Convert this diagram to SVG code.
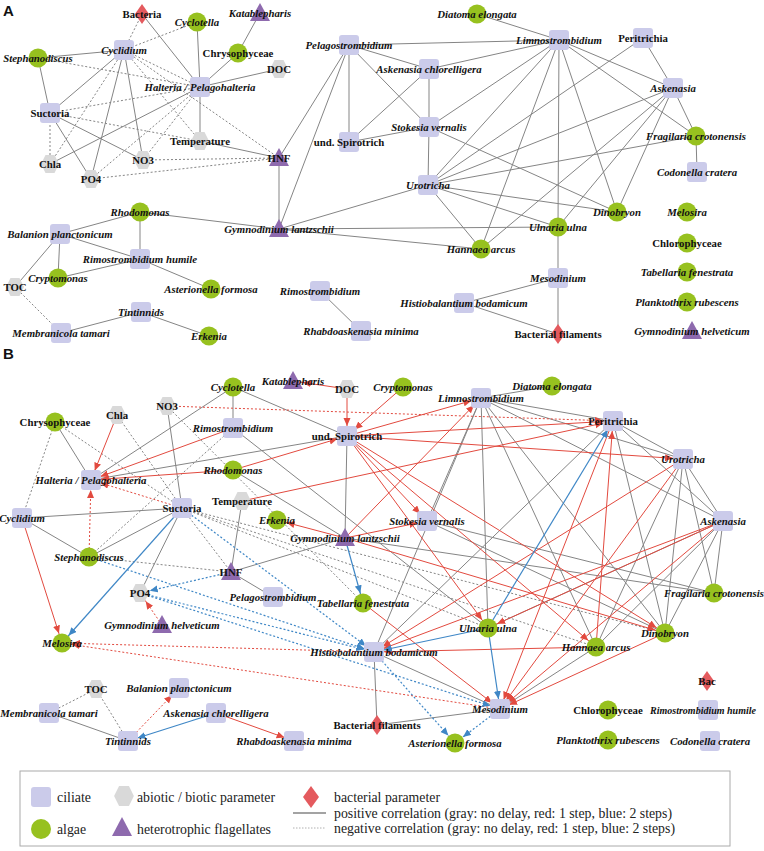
<svg xmlns="http://www.w3.org/2000/svg" width="764" height="851" viewBox="0 0 764 851">
<style>
.g{stroke:#858585;stroke-width:1;fill:none}
.gd{stroke:#858585;stroke-width:1;stroke-dasharray:2 2;fill:none}
.r{stroke:#e24a3f;stroke-width:1;marker-end:url(#mr)}
.rd{stroke:#e24a3f;stroke-width:1;stroke-dasharray:2 2;marker-end:url(#mr)}
.b{stroke:#3f87c6;stroke-width:1.2;marker-end:url(#mb)}
.bd{stroke:#3f87c6;stroke-width:1.2;stroke-dasharray:2 2;marker-end:url(#mb)}
text{font-family:"Liberation Serif","Times New Roman",serif;font-weight:bold;font-size:10.8px;text-anchor:middle;fill:#111}
.i{font-style:italic}
.sm{font-size:10px}
.lg{font-weight:normal;font-size:14px;text-anchor:start;fill:#222}
.pl{font-family:"Liberation Sans",Arial,sans-serif;font-size:15px;text-anchor:start}
</style>
<defs>
<rect id="sq" x="-10" y="-10" width="20" height="20" rx="3" fill="#cbcbea"/>
<circle id="ci" r="9.5" fill="#97c11f"/>
<polygon id="hx" points="-9,0 -4.5,-9 4.5,-9 9,0 4.5,9 -4.5,9" fill="#d9d9d9"/>
<polygon id="tr" points="0,-10 10,8 -10,8" fill="#8e6aae"/>
<polygon id="dm" points="0,-10 7,0 0,10 -7,0" fill="#e45a5e"/>
<marker id="mr" markerUnits="userSpaceOnUse" markerWidth="30" markerHeight="10" refX="18" refY="3.5" orient="auto"><path d="M0,0 L8,3.5 L0,7 z" fill="#e24a3f"/></marker>
<marker id="mb" markerUnits="userSpaceOnUse" markerWidth="30" markerHeight="10" refX="18" refY="3.5" orient="auto"><path d="M0,0 L8,3.5 L0,7 z" fill="#3f87c6"/></marker>
</defs>
<rect width="764" height="851" fill="#fff"/>
<text class="pl" x="3" y="16">A</text>
<text class="pl" x="3" y="359">B</text>

<g id="connectors-A">
<line class="g" x1="142" y1="14" x2="200" y2="87"/>
<line class="g" x1="197" y1="22" x2="200" y2="87"/>
<line class="g" x1="260" y1="13" x2="238" y2="53"/>
<line class="g" x1="238" y1="53" x2="200" y2="87"/>
<line class="g" x1="200" y1="87" x2="279" y2="69"/>
<line class="g" x1="38" y1="58" x2="124" y2="50"/>
<line class="g" x1="38" y1="58" x2="50" y2="113"/>
<line class="g" x1="124" y1="50" x2="50" y2="113"/>
<line class="g" x1="124" y1="50" x2="143" y2="160"/>
<line class="g" x1="124" y1="50" x2="91" y2="179"/>
<line class="g" x1="200" y1="87" x2="50" y2="164"/>
<line class="g" x1="200" y1="87" x2="200" y2="141"/>
<line class="g" x1="50" y1="113" x2="91" y2="179"/>
<line class="g" x1="50" y1="113" x2="143" y2="160"/>
<line class="g" x1="200" y1="141" x2="279" y2="158"/>
<line class="g" x1="279" y1="158" x2="349" y2="45"/>
<line class="g" x1="279" y1="158" x2="279" y2="229"/>
<line class="g" x1="279" y1="229" x2="349" y2="45"/>
<line class="g" x1="349" y1="45" x2="559" y2="40"/>
<line class="g" x1="349" y1="45" x2="429" y2="69"/>
<line class="g" x1="349" y1="45" x2="349" y2="142"/>
<line class="g" x1="349" y1="45" x2="429" y2="127"/>
<line class="g" x1="429" y1="69" x2="349" y2="142"/>
<line class="g" x1="429" y1="69" x2="429" y2="127"/>
<line class="g" x1="429" y1="69" x2="559" y2="40"/>
<line class="g" x1="349" y1="142" x2="429" y2="127"/>
<line class="g" x1="429" y1="127" x2="428" y2="185"/>
<line class="g" x1="429" y1="127" x2="559" y2="40"/>
<line class="g" x1="429" y1="127" x2="617" y2="212"/>
<line class="g" x1="477" y1="14" x2="559" y2="40"/>
<line class="g" x1="559" y1="40" x2="673" y2="88"/>
<line class="g" x1="559" y1="40" x2="696" y2="136"/>
<line class="g" x1="559" y1="40" x2="428" y2="185"/>
<line class="g" x1="559" y1="40" x2="558" y2="227"/>
<line class="g" x1="559" y1="40" x2="481" y2="249"/>
<line class="g" x1="559" y1="40" x2="617" y2="212"/>
<line class="g" x1="643" y1="38" x2="673" y2="88"/>
<line class="g" x1="643" y1="38" x2="428" y2="185"/>
<line class="g" x1="673" y1="88" x2="696" y2="136"/>
<line class="g" x1="673" y1="88" x2="428" y2="185"/>
<line class="g" x1="673" y1="88" x2="481" y2="249"/>
<line class="g" x1="673" y1="88" x2="558" y2="227"/>
<line class="g" x1="673" y1="88" x2="617" y2="212"/>
<line class="g" x1="696" y1="136" x2="697" y2="172"/>
<line class="g" x1="696" y1="136" x2="428" y2="185"/>
<line class="g" x1="428" y1="185" x2="481" y2="249"/>
<line class="g" x1="428" y1="185" x2="558" y2="227"/>
<line class="g" x1="428" y1="185" x2="617" y2="212"/>
<line class="g" x1="428" y1="185" x2="279" y2="229"/>
<line class="g" x1="558" y1="227" x2="558" y2="278"/>
<line class="g" x1="558" y1="227" x2="279" y2="229"/>
<line class="g" x1="481" y1="249" x2="279" y2="229"/>
<line class="g" x1="558" y1="278" x2="464" y2="303"/>
<line class="g" x1="558" y1="278" x2="558" y2="334"/>
<line class="g" x1="464" y1="303" x2="558" y2="334"/>
<line class="g" x1="140" y1="212" x2="60" y2="234"/>
<line class="g" x1="140" y1="212" x2="140" y2="259"/>
<line class="g" x1="140" y1="212" x2="279" y2="229"/>
<line class="g" x1="60" y1="234" x2="58" y2="278"/>
<line class="g" x1="60" y1="234" x2="15" y2="287"/>
<line class="g" x1="60" y1="234" x2="140" y2="259"/>
<line class="g" x1="58" y1="278" x2="140" y2="259"/>
<line class="g" x1="140" y1="259" x2="211" y2="289"/>
<line class="g" x1="61" y1="333" x2="141" y2="312"/>
<line class="g" x1="141" y1="312" x2="209" y2="336"/>
<line class="g" x1="320" y1="291" x2="361" y2="331"/>
<line class="gd" x1="142" y1="14" x2="124" y2="50"/>
<line class="gd" x1="197" y1="22" x2="124" y2="50"/>
<line class="gd" x1="38" y1="58" x2="200" y2="87"/>
<line class="gd" x1="124" y1="50" x2="200" y2="87"/>
<line class="gd" x1="124" y1="50" x2="200" y2="141"/>
<line class="gd" x1="124" y1="50" x2="50" y2="164"/>
<line class="gd" x1="50" y1="113" x2="200" y2="87"/>
<line class="gd" x1="200" y1="87" x2="143" y2="160"/>
<line class="gd" x1="200" y1="87" x2="91" y2="179"/>
<line class="gd" x1="50" y1="113" x2="50" y2="164"/>
<line class="gd" x1="50" y1="113" x2="200" y2="141"/>
<line class="gd" x1="143" y1="160" x2="279" y2="158"/>
<line class="gd" x1="91" y1="179" x2="279" y2="158"/>
<line class="gd" x1="124" y1="50" x2="279" y2="158"/>
<line class="gd" x1="15" y1="287" x2="61" y2="333"/>
</g>

<g id="connectors-B">
<line class="g" x1="55" y1="422" x2="91" y2="480"/>
<line class="g" x1="167" y1="406" x2="182" y2="508"/>
<line class="g" x1="233" y1="387" x2="233" y2="428"/>
<line class="g" x1="233" y1="387" x2="91" y2="480"/>
<line class="g" x1="233" y1="387" x2="347" y2="436"/>
<line class="g" x1="91" y1="480" x2="347" y2="436"/>
<line class="g" x1="233" y1="428" x2="488" y2="628"/>
<line class="g" x1="233" y1="470" x2="345" y2="538"/>
<line class="g" x1="242" y1="501" x2="231" y2="572"/>
<line class="g" x1="182" y1="508" x2="22" y2="518"/>
<line class="g" x1="22" y1="518" x2="89" y2="557"/>
<line class="g" x1="89" y1="557" x2="182" y2="508"/>
<line class="g" x1="182" y1="508" x2="140" y2="593"/>
<line class="g" x1="231" y1="572" x2="345" y2="538"/>
<line class="g" x1="231" y1="572" x2="273" y2="597"/>
<line class="g" x1="345" y1="538" x2="347" y2="436"/>
<line class="g" x1="345" y1="538" x2="714" y2="593"/>
<line class="g" x1="481" y1="398" x2="552" y2="386"/>
<line class="g" x1="481" y1="398" x2="613" y2="421"/>
<line class="g" x1="481" y1="398" x2="683" y2="459"/>
<line class="g" x1="481" y1="398" x2="723" y2="521"/>
<line class="g" x1="481" y1="398" x2="427" y2="521"/>
<line class="g" x1="481" y1="398" x2="488" y2="628"/>
<line class="g" x1="481" y1="398" x2="596" y2="647"/>
<line class="g" x1="481" y1="398" x2="665" y2="633"/>
<line class="g" x1="481" y1="398" x2="374" y2="652"/>
<line class="g" x1="613" y1="421" x2="683" y2="459"/>
<line class="g" x1="613" y1="421" x2="723" y2="521"/>
<line class="g" x1="613" y1="421" x2="665" y2="633"/>
<line class="g" x1="613" y1="421" x2="374" y2="652"/>
<line class="g" x1="683" y1="459" x2="723" y2="521"/>
<line class="g" x1="683" y1="459" x2="714" y2="593"/>
<line class="g" x1="683" y1="459" x2="665" y2="633"/>
<line class="g" x1="683" y1="459" x2="596" y2="647"/>
<line class="g" x1="723" y1="521" x2="714" y2="593"/>
<line class="g" x1="723" y1="521" x2="665" y2="633"/>
<line class="g" x1="723" y1="521" x2="596" y2="647"/>
<line class="g" x1="723" y1="521" x2="488" y2="628"/>
<line class="g" x1="427" y1="521" x2="714" y2="593"/>
<line class="g" x1="427" y1="521" x2="665" y2="633"/>
<line class="g" x1="374" y1="652" x2="500" y2="709"/>
<line class="g" x1="374" y1="652" x2="377" y2="725"/>
<line class="g" x1="500" y1="709" x2="377" y2="725"/>
<line class="g" x1="500" y1="709" x2="596" y2="647"/>
<line class="g" x1="49" y1="713" x2="128" y2="741"/>
<line class="gd" x1="55" y1="422" x2="22" y2="518"/>
<line class="gd" x1="55" y1="422" x2="182" y2="508"/>
<line class="gd" x1="117" y1="415" x2="182" y2="508"/>
<line class="gd" x1="167" y1="406" x2="363" y2="603"/>
<line class="gd" x1="233" y1="428" x2="89" y2="557"/>
<line class="gd" x1="182" y1="508" x2="231" y2="572"/>
<line class="gd" x1="182" y1="508" x2="488" y2="628"/>
<line class="gd" x1="182" y1="508" x2="596" y2="647"/>
<line class="gd" x1="182" y1="508" x2="665" y2="633"/>
<line class="gd" x1="89" y1="557" x2="231" y2="572"/>
<line class="gd" x1="96" y1="689" x2="49" y2="713"/>
<line class="gd" x1="96" y1="689" x2="128" y2="741"/>
<line class="r" x1="117" y1="415" x2="91" y2="480"/>
<line class="r" x1="233" y1="428" x2="91" y2="480"/>
<line class="r" x1="233" y1="470" x2="91" y2="480"/>
<line class="r" x1="22" y1="518" x2="62" y2="643"/>
<line class="r" x1="233" y1="470" x2="347" y2="436"/>
<line class="r" x1="242" y1="501" x2="613" y2="421"/>
<line class="r" x1="347" y1="389" x2="293" y2="381"/>
<line class="r" x1="347" y1="389" x2="347" y2="436"/>
<line class="r" x1="403" y1="387" x2="347" y2="436"/>
<line class="r" x1="347" y1="436" x2="481" y2="398"/>
<line class="r" x1="347" y1="436" x2="613" y2="421"/>
<line class="r" x1="347" y1="436" x2="683" y2="459"/>
<line class="r" x1="347" y1="436" x2="427" y2="521"/>
<line class="r" x1="347" y1="436" x2="488" y2="628"/>
<line class="r" x1="347" y1="436" x2="596" y2="647"/>
<line class="r" x1="347" y1="436" x2="665" y2="633"/>
<line class="r" x1="345" y1="538" x2="277" y2="520"/>
<line class="r" x1="345" y1="538" x2="427" y2="521"/>
<line class="r" x1="345" y1="538" x2="481" y2="398"/>
<line class="r" x1="345" y1="538" x2="665" y2="633"/>
<line class="r" x1="363" y1="603" x2="500" y2="709"/>
<line class="r" x1="596" y1="647" x2="613" y2="421"/>
<line class="r" x1="683" y1="459" x2="374" y2="652"/>
<line class="r" x1="683" y1="459" x2="500" y2="709"/>
<line class="r" x1="723" y1="521" x2="374" y2="652"/>
<line class="r" x1="723" y1="521" x2="500" y2="709"/>
<line class="r" x1="723" y1="521" x2="488" y2="628"/>
<line class="r" x1="613" y1="421" x2="500" y2="709"/>
<line class="r" x1="665" y1="633" x2="500" y2="709"/>
<line class="r" x1="596" y1="647" x2="374" y2="652"/>
<line class="r" x1="216" y1="713" x2="294" y2="741"/>
<line class="rd" x1="167" y1="406" x2="613" y2="421"/>
<line class="rd" x1="182" y1="508" x2="91" y2="480"/>
<line class="rd" x1="89" y1="557" x2="91" y2="480"/>
<line class="rd" x1="162" y1="625" x2="140" y2="593"/>
<line class="rd" x1="374" y1="652" x2="62" y2="643"/>
<line class="rd" x1="500" y1="709" x2="62" y2="643"/>
<line class="rd" x1="128" y1="741" x2="179" y2="688"/>
<line class="b" x1="182" y1="508" x2="62" y2="643"/>
<line class="b" x1="345" y1="538" x2="363" y2="603"/>
<line class="b" x1="488" y1="628" x2="613" y2="421"/>
<line class="b" x1="488" y1="628" x2="500" y2="709"/>
<line class="b" x1="488" y1="628" x2="374" y2="652"/>
<line class="b" x1="216" y1="713" x2="128" y2="741"/>
<line class="bd" x1="182" y1="508" x2="374" y2="652"/>
<line class="bd" x1="89" y1="557" x2="374" y2="652"/>
<line class="bd" x1="231" y1="572" x2="140" y2="593"/>
<line class="bd" x1="140" y1="593" x2="374" y2="652"/>
<line class="bd" x1="140" y1="593" x2="500" y2="709"/>
<line class="bd" x1="500" y1="709" x2="455" y2="743"/>
<line class="bd" x1="374" y1="652" x2="455" y2="743"/>
</g>

<g id="A-bacteria" transform="translate(142,14)"><use href="#dm"/><text y="4">Bacteria</text></g>
<g id="A-cyclotella" transform="translate(197,22)"><use href="#ci"/><text class="i" y="4">Cyclotella</text></g>
<g id="A-katablepharis" transform="translate(260,13)"><use href="#tr"/><text class="i" y="4">Katablepharis</text></g>
<g id="A-chrysophyceae" transform="translate(238,53)"><use href="#ci"/><text y="4">Chrysophyceae</text></g>
<g id="A-cyclidium" transform="translate(124,50)"><use href="#sq"/><text class="i" y="4">Cyclidium</text></g>
<g id="A-stephanodiscus" transform="translate(38,58)"><use href="#ci"/><text class="i" y="4">Stephanodiscus</text></g>
<g id="A-halteria" transform="translate(200,87)"><use href="#sq"/><text class="i" y="4">Halteria / Pelagohalteria</text></g>
<g id="A-doc" transform="translate(279,69)"><use href="#hx"/><text y="4">DOC</text></g>
<g id="A-suctoria" transform="translate(50,113)"><use href="#sq"/><text y="4">Suctoria</text></g>
<g id="A-temperature" transform="translate(200,141)"><use href="#hx"/><text y="4">Temperature</text></g>
<g id="A-chla" transform="translate(50,164)"><use href="#hx"/><text y="4">Chla</text></g>
<g id="A-no3" transform="translate(143,160)"><use href="#hx"/><text y="4">NO3</text></g>
<g id="A-po4" transform="translate(91,179)"><use href="#hx"/><text y="4">PO4</text></g>
<g id="A-hnf" transform="translate(279,158)"><use href="#tr"/><text y="4">HNF</text></g>
<g id="A-pelagostrombidium" transform="translate(349,45)"><use href="#sq"/><text class="i" y="4">Pelagostrombidium</text></g>
<g id="A-askenasia-chlorelligera" transform="translate(429,69)"><use href="#sq"/><text class="i" y="4">Askenasia chlorelligera</text></g>
<g id="A-spirotrich" transform="translate(349,142)"><use href="#sq"/><text y="4">und. Spirotrich</text></g>
<g id="A-stokesia" transform="translate(429,127)"><use href="#sq"/><text class="i" y="4">Stokesia vernalis</text></g>
<g id="A-diatoma" transform="translate(477,14)"><use href="#ci"/><text class="i" y="4">Diatoma elongata</text></g>
<g id="A-limnostrombidium" transform="translate(559,40)"><use href="#sq"/><text class="i" y="4">Limnostrombidium</text></g>
<g id="A-peritrichia" transform="translate(643,38)"><use href="#sq"/><text y="4">Peritrichia</text></g>
<g id="A-askenasia" transform="translate(673,88)"><use href="#sq"/><text class="i" y="4">Askenasia</text></g>
<g id="A-fragilaria" transform="translate(696,136)"><use href="#ci"/><text class="i" y="4">Fragilaria crotonensis</text></g>
<g id="A-codonella" transform="translate(697,172)"><use href="#sq"/><text class="i" y="4">Codonella cratera</text></g>
<g id="A-urotricha" transform="translate(428,185)"><use href="#sq"/><text class="i" y="4">Urotricha</text></g>
<g id="A-dinobryon" transform="translate(617,212)"><use href="#ci"/><text class="i" y="4">Dinobryon</text></g>
<g id="A-melosira" transform="translate(687,212)"><use href="#ci"/><text class="i" y="4">Melosira</text></g>
<g id="A-ulnaria" transform="translate(558,227)"><use href="#ci"/><text class="i" y="4">Ulnaria ulna</text></g>
<g id="A-hannaea" transform="translate(481,249)"><use href="#ci"/><text class="i" y="4">Hannaea arcus</text></g>
<g id="A-chlorophyceae" transform="translate(687,243)"><use href="#ci"/><text y="4">Chlorophyceae</text></g>
<g id="A-mesodinium" transform="translate(558,278)"><use href="#sq"/><text class="i" y="4">Mesodinium</text></g>
<g id="A-tabellaria" transform="translate(687,272)"><use href="#ci"/><text class="i" y="4">Tabellaria fenestrata</text></g>
<g id="A-histiobalantium" transform="translate(464,303)"><use href="#sq"/><text class="i" y="4">Histiobalantium bodamicum</text></g>
<g id="A-planktothrix" transform="translate(687,302)"><use href="#ci"/><text class="i" y="4">Planktothrix rubescens</text></g>
<g id="A-bacterial-filaments" transform="translate(558,334)"><use href="#dm"/><text y="4">Bacterial filaments</text></g>
<g id="A-gymnodinium-helveticum" transform="translate(692,331)"><use href="#tr"/><text class="i" y="4">Gymnodinium helveticum</text></g>
<g id="A-gymnodinium-lantzschii" transform="translate(279,229)"><use href="#tr"/><text class="i" y="4">Gymnodinium lantzschii</text></g>
<g id="A-rhodomonas" transform="translate(140,212)"><use href="#ci"/><text class="i" y="4">Rhodomonas</text></g>
<g id="A-balanion" transform="translate(60,234)"><use href="#sq"/><text class="i" y="4">Balanion planctonicum</text></g>
<g id="A-rimostrombidium-humile" transform="translate(140,259)"><use href="#sq"/><text class="i" y="4">Rimostrombidium humile</text></g>
<g id="A-cryptomonas" transform="translate(58,278)"><use href="#ci"/><text class="i" y="4">Cryptomonas</text></g>
<g id="A-toc" transform="translate(15,287)"><use href="#hx"/><text y="4">TOC</text></g>
<g id="A-asterionella" transform="translate(211,289)"><use href="#ci"/><text class="i" y="4">Asterionella formosa</text></g>
<g id="A-tintinnids" transform="translate(141,312)"><use href="#sq"/><text class="i" y="4">Tintinnids</text></g>
<g id="A-membranicola" transform="translate(61,333)"><use href="#sq"/><text class="i" y="4">Membranicola tamari</text></g>
<g id="A-erkenia" transform="translate(209,336)"><use href="#ci"/><text class="i" y="4">Erkenia</text></g>
<g id="A-rimostrombidium" transform="translate(320,291)"><use href="#sq"/><text class="i" y="4">Rimostrombidium</text></g>
<g id="A-rhabdoaskenasia" transform="translate(361,331)"><use href="#sq"/><text class="i" y="4">Rhabdoaskenasia minima</text></g>

<g id="B-chrysophyceae" transform="translate(55,422)"><use href="#ci"/><text y="4">Chrysophyceae</text></g>
<g id="B-chla" transform="translate(117,415)"><use href="#hx"/><text y="4">Chla</text></g>
<g id="B-no3" transform="translate(167,406)"><use href="#hx"/><text y="4">NO3</text></g>
<g id="B-cyclotella" transform="translate(233,387)"><use href="#ci"/><text class="i" y="4">Cyclotella</text></g>
<g id="B-katablepharis" transform="translate(293,381)"><use href="#tr"/><text class="i" y="4">Katablepharis</text></g>
<g id="B-doc" transform="translate(347,389)"><use href="#hx"/><text y="4">DOC</text></g>
<g id="B-cryptomonas" transform="translate(403,387)"><use href="#ci"/><text class="i" y="4">Cryptomonas</text></g>
<g id="B-limnostrombidium" transform="translate(481,398)"><use href="#sq"/><text class="i" y="4">Limnostrombidium</text></g>
<g id="B-diatoma" transform="translate(552,386)"><use href="#ci"/><text class="i" y="4">Diatoma elongata</text></g>
<g id="B-peritrichia" transform="translate(613,421)"><use href="#sq"/><text y="4">Peritrichia</text></g>
<g id="B-rimostrombidium" transform="translate(233,428)"><use href="#sq"/><text class="i" y="4">Rimostrombidium</text></g>
<g id="B-spirotrich" transform="translate(347,436)"><use href="#sq"/><text y="4">und. Spirotrich</text></g>
<g id="B-halteria" transform="translate(91,480)"><use href="#sq"/><text class="i" y="4">Halteria / Pelagohalteria</text></g>
<g id="B-rhodomonas" transform="translate(233,470)"><use href="#ci"/><text class="i" y="4">Rhodomonas</text></g>
<g id="B-urotricha" transform="translate(683,459)"><use href="#sq"/><text class="i" y="4">Urotricha</text></g>
<g id="B-suctoria" transform="translate(182,508)"><use href="#sq"/><text y="4">Suctoria</text></g>
<g id="B-temperature" transform="translate(242,501)"><use href="#hx"/><text y="4">Temperature</text></g>
<g id="B-cyclidium" transform="translate(22,518)"><use href="#sq"/><text class="i" y="4">Cyclidium</text></g>
<g id="B-askenasia" transform="translate(723,521)"><use href="#sq"/><text class="i" y="4">Askenasia</text></g>
<g id="B-stokesia" transform="translate(427,521)"><use href="#sq"/><text class="i" y="4">Stokesia vernalis</text></g>
<g id="B-erkenia" transform="translate(277,520)"><use href="#ci"/><text class="i" y="4">Erkenia</text></g>
<g id="B-gymnodinium-lantzschii" transform="translate(345,538)"><use href="#tr"/><text class="i" y="4">Gymnodinium lantzschii</text></g>
<g id="B-stephanodiscus" transform="translate(89,557)"><use href="#ci"/><text class="i" y="4">Stephanodiscus</text></g>
<g id="B-hnf" transform="translate(231,572)"><use href="#tr"/><text y="4">HNF</text></g>
<g id="B-fragilaria" transform="translate(714,593)"><use href="#ci"/><text class="i" y="4">Fragilaria crotonensis</text></g>
<g id="B-po4" transform="translate(140,593)"><use href="#hx"/><text y="4">PO4</text></g>
<g id="B-pelagostrombidium" transform="translate(273,597)"><use href="#sq"/><text class="i" y="4">Pelagostrombidium</text></g>
<g id="B-tabellaria" transform="translate(363,603)"><use href="#ci"/><text class="i" y="4">Tabellaria fenestrata</text></g>
<g id="B-gymnodinium-helveticum" transform="translate(162,625)"><use href="#tr"/><text class="i" y="4">Gymnodinium helveticum</text></g>
<g id="B-ulnaria" transform="translate(488,628)"><use href="#ci"/><text class="i" y="4">Ulnaria ulna</text></g>
<g id="B-hannaea" transform="translate(596,647)"><use href="#ci"/><text class="i" y="4">Hannaea arcus</text></g>
<g id="B-dinobryon" transform="translate(665,633)"><use href="#ci"/><text class="i" y="4">Dinobryon</text></g>
<g id="B-melosira" transform="translate(62,643)"><use href="#ci"/><text class="i" y="4">Melosira</text></g>
<g id="B-histiobalantium" transform="translate(374,652)"><use href="#sq"/><text class="i" y="4">Histiobalantium bodamicum</text></g>
<g id="B-bac" transform="translate(707,681)"><use href="#dm"/><text y="4">Bac</text></g>
<g id="B-membranicola" transform="translate(49,713)"><use href="#sq"/><text class="i" y="4">Membranicola tamari</text></g>
<g id="B-toc" transform="translate(96,689)"><use href="#hx"/><text y="4">TOC</text></g>
<g id="B-balanion" transform="translate(179,688)"><use href="#sq"/><text class="i" y="4">Balanion planctonicum</text></g>
<g id="B-askenasia-chlorelligera" transform="translate(216,713)"><use href="#sq"/><text class="i" y="4">Askenasia chlorelligera</text></g>
<g id="B-tintinnids" transform="translate(128,741)"><use href="#sq"/><text class="i" y="4">Tintinnids</text></g>
<g id="B-rhabdoaskenasia" transform="translate(294,741)"><use href="#sq"/><text class="i" y="4">Rhabdoaskenasia minima</text></g>
<g id="B-bacterial-filaments" transform="translate(377,725)"><use href="#dm"/><text y="4">Bacterial filaments</text></g>
<g id="B-mesodinium" transform="translate(500,709)"><use href="#sq"/><text class="i" y="4">Mesodinium</text></g>
<g id="B-asterionella" transform="translate(455,743)"><use href="#ci"/><text class="i" y="4">Asterionella formosa</text></g>
<g id="B-chlorophyceae" transform="translate(608,710)"><use href="#ci"/><text y="4">Chlorophyceae</text></g>
<g id="B-rimostrombidium-humile"><use href="#sq" x="708" y="710"/><text class="i sm" x="703" y="714">Rimostrombidium humile</text></g>
<g id="B-planktothrix" transform="translate(608,740)"><use href="#ci"/><text class="i" y="4">Planktothrix rubescens</text></g>
<g id="B-codonella" transform="translate(710,741)"><use href="#sq"/><text class="i" y="4">Codonella cratera</text></g>

<g id="legend">
<rect x="20" y="771" width="710" height="75" fill="#fff" stroke="#aaaaaa" stroke-width="1"/>
<use href="#sq" transform="translate(41,797)"/>
<text class="lg" x="57" y="802" textLength="34" lengthAdjust="spacingAndGlyphs">ciliate</text>
<use href="#hx" transform="translate(124,796) scale(1.1)"/>
<text class="lg" x="137" y="802" textLength="138" lengthAdjust="spacingAndGlyphs">abiotic / biotic parameter</text>
<polygon points="311,786 319,797 311,808 303,797" fill="#e45a5e"/>
<text class="lg" x="334" y="802" textLength="106" lengthAdjust="spacingAndGlyphs">bacterial parameter</text>
<line x1="293" y1="813" x2="326" y2="813" stroke="#858585" stroke-width="1.5"/>
<text class="lg" x="334" y="818" textLength="338" lengthAdjust="spacingAndGlyphs">positive correlation (gray: no delay, red: 1 step, blue: 2 steps)</text>
<line x1="293" y1="828" x2="326" y2="828" stroke="#b0b0b0" stroke-width="1" stroke-dasharray="1.5 1.5"/>
<text class="lg" x="334" y="833" textLength="341" lengthAdjust="spacingAndGlyphs">negative correlation (gray: no delay, red: 1 step, blue: 2 steps)</text>
<circle cx="41" cy="829" r="10" fill="#97c11f"/>
<text class="lg" x="57" y="834" textLength="29" lengthAdjust="spacingAndGlyphs">algae</text>
<polygon points="122,817 132,836 112,836" fill="#8e6aae"/>
<text class="lg" x="137" y="834" textLength="134" lengthAdjust="spacingAndGlyphs">heterotrophic flagellates</text>
</g>
</svg>
